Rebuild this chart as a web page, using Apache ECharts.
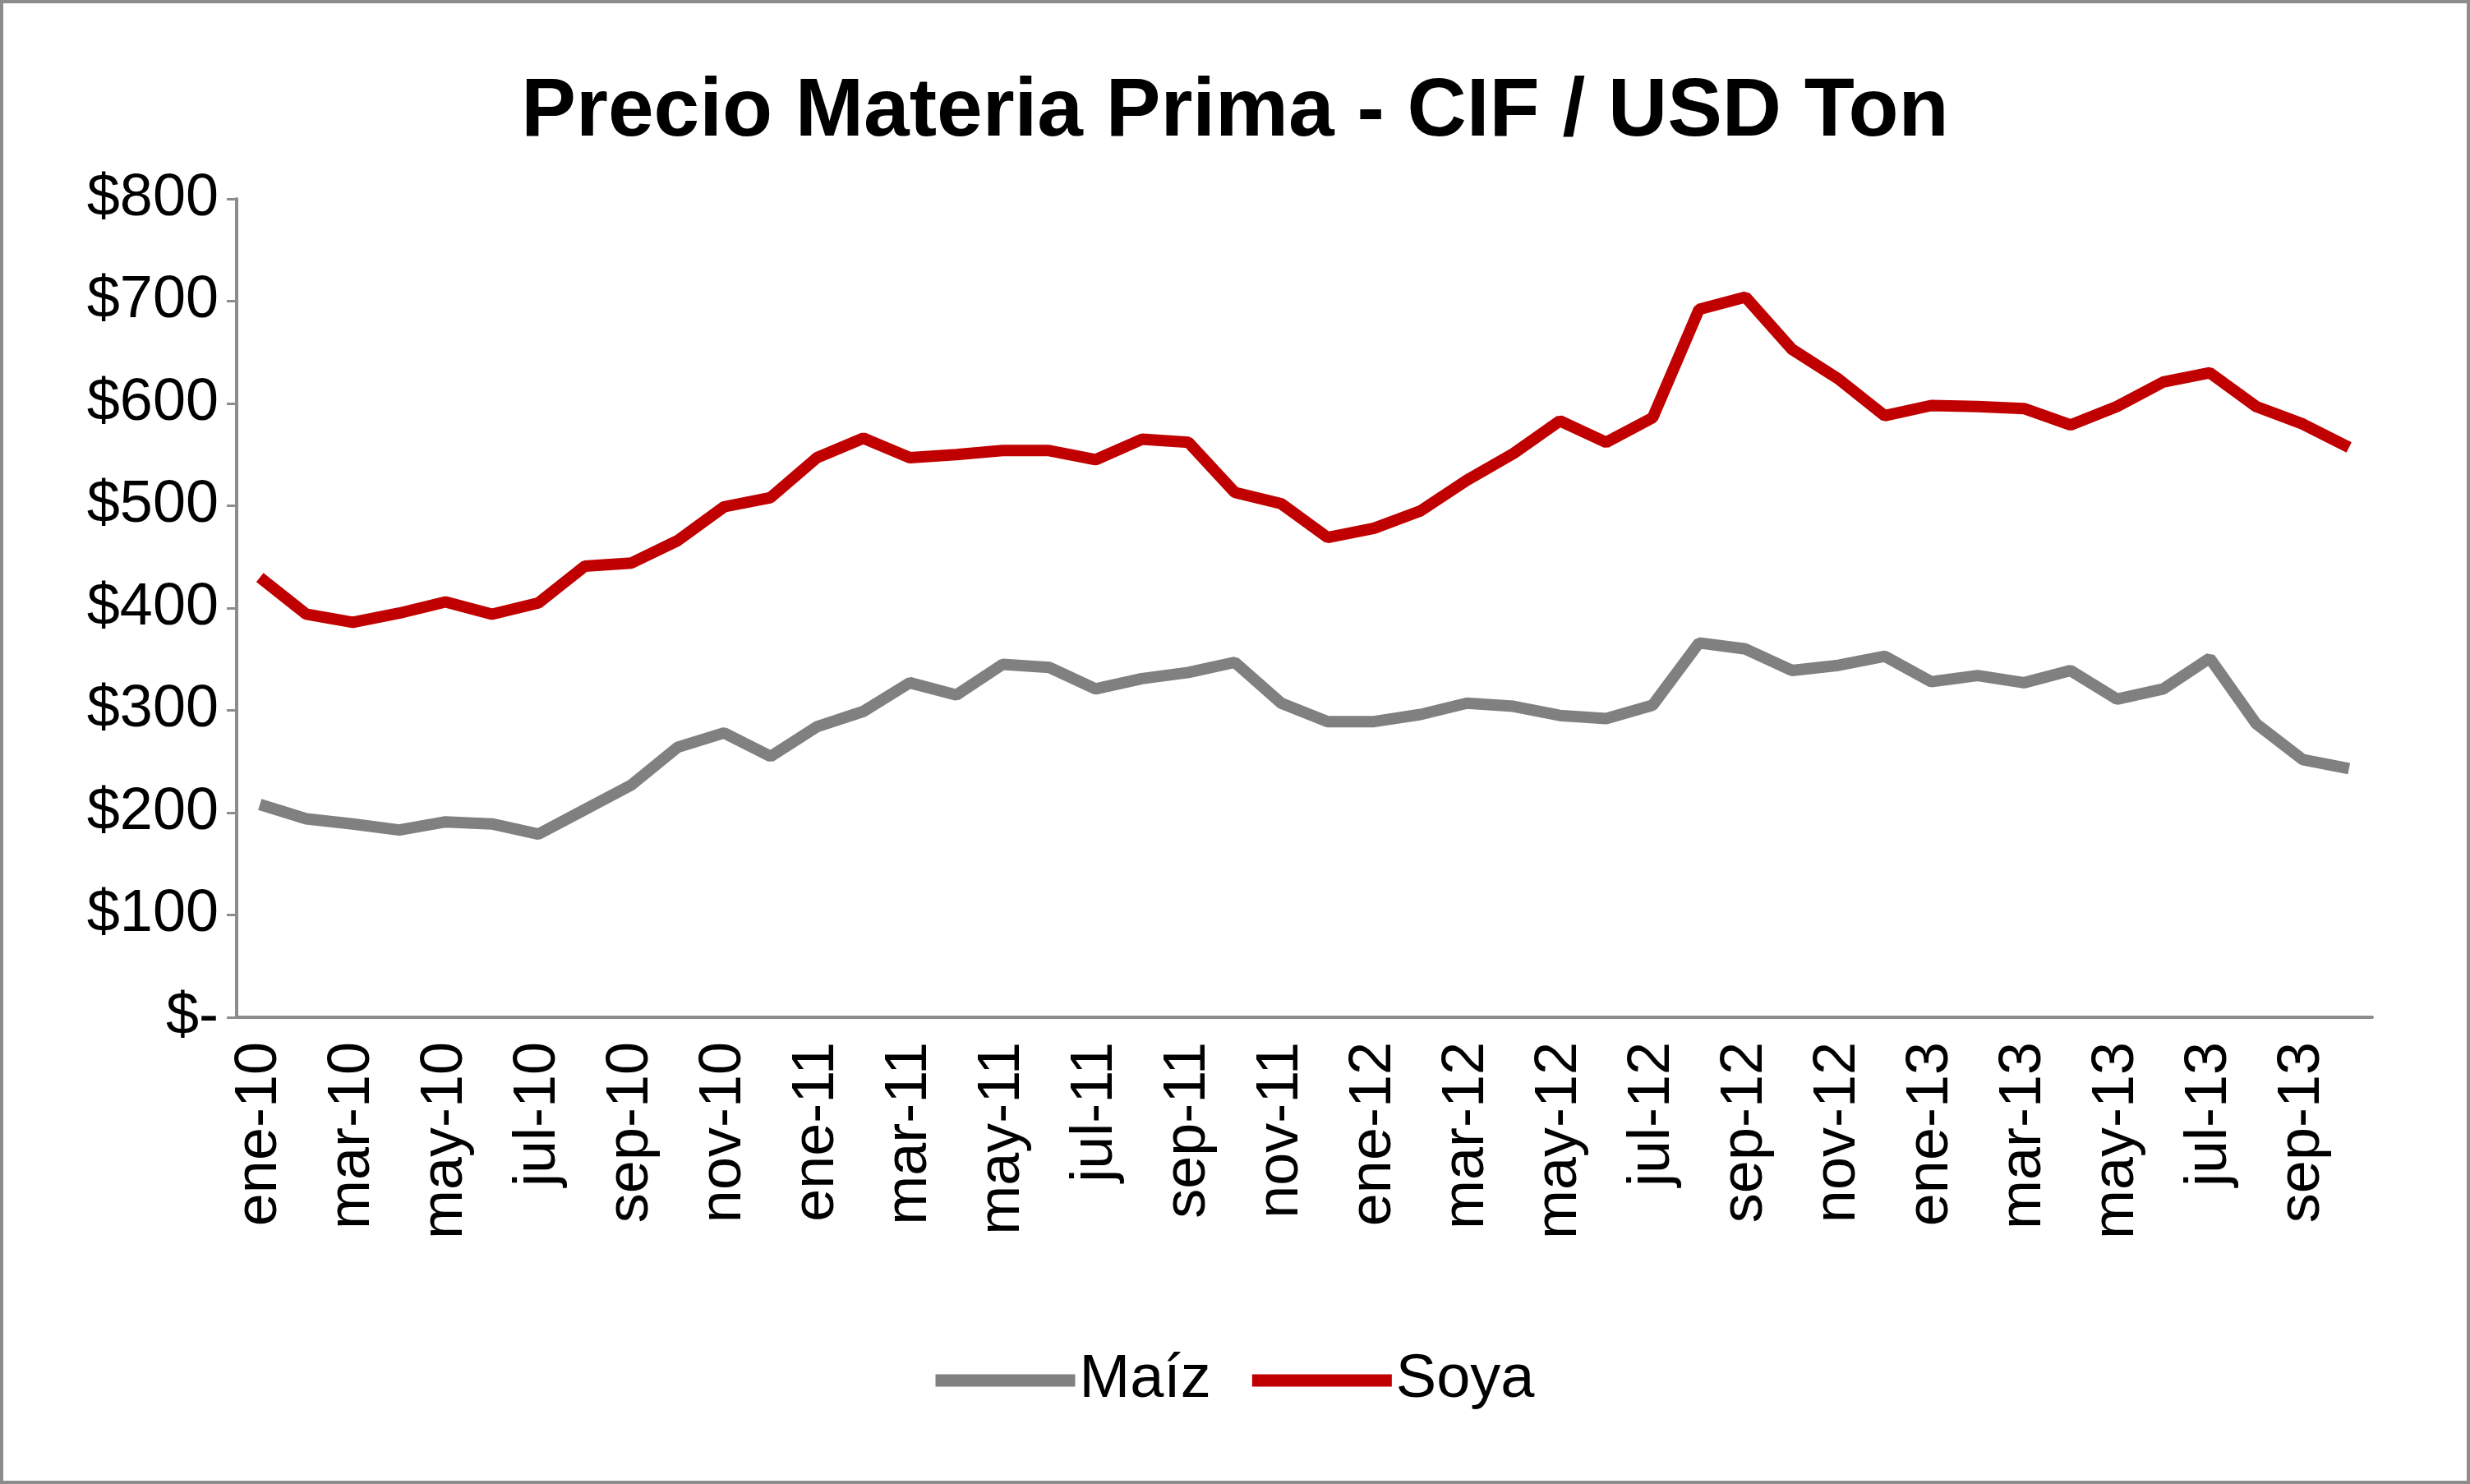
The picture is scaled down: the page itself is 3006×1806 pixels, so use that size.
<!DOCTYPE html>
<html>
<head>
<meta charset="UTF-8">
<script src="https://cdn.jsdelivr.net/npm/echarts@6/dist/echarts.min.js"></script>
<style>
  html, body { margin: 0; padding: 0; background: #fff; }
  #main { width: 3006px; height: 1806px; box-sizing: border-box; border: 4px solid #8c8c8c; }
</style>
</head>
<body>
<div id="main"></div>
<script>
// meses ene-10 .. oct-13
var mesesNombre = ['ene', 'feb', 'mar', 'abr', 'may', 'jun', 'jul', 'ago', 'sep', 'oct', 'nov', 'dic'];
var meses = [];
for (var a = 10; a <= 13; a++) {
  for (var m = 0; m < 12; m++) {
    if (a === 13 && m > 9) break;
    meses.push(mesesNombre[m] + '-' + a);
  }
}

var maiz = [208, 194, 189, 183, 191, 189, 179, 203, 227, 264, 278, 255,
  284, 299, 327, 315, 345, 342, 321, 331, 337, 347, 307, 289,
  289, 296, 307, 304, 295, 292, 305, 366, 360, 339, 344, 353,
  328, 334, 327, 339, 311, 321, 351, 287, 252, 243];

var soya = [430, 394, 386, 395, 406, 394, 405, 441, 444, 466, 499, 508,
  547, 566, 547, 550, 554, 554, 545, 565, 562, 513, 502, 469,
  478, 495, 525, 551, 583, 562, 586, 692, 704, 653, 624, 588,
  598, 597, 595, 579, 597, 621, 630, 597, 580, 557];

var fuente = '"Liberation Sans Narrow", "Liberation Sans", Arial, sans-serif';

var myChart = echarts.init(document.getElementById('main'));
myChart.setOption({
  animation: false,
  title: {
    text: 'Precio Materia Prima - CIF / USD Ton',
    left: 'center',
    top: 78,
    textStyle: { fontFamily: fuente, fontSize: 100, fontWeight: 'bold', color: '#000' }
  },
  legend: {
    bottom: 80,
    left: 'center',
    itemWidth: 170,
    itemHeight: 15,
    itemGap: 50,
    icon: 'rect',
    textStyle: { fontFamily: fuente, fontSize: 74, color: '#000' },
    data: ['Maíz', 'Soya']
  },
  grid: { left: 284, right: 115, top: 238, bottom: 564 },
  xAxis: {
    type: 'category',
    data: meses,
    boundaryGap: true,
    axisLine: { lineStyle: { color: '#8c8c8c', width: 4 } },
    axisTick: { show: false },
    axisLabel: {
      interval: 1,
      rotate: 90,
      margin: 30,
      fontFamily: fuente,
      fontSize: 72,
      color: '#000'
    }
  },
  yAxis: {
    type: 'value',
    min: 0,
    max: 800,
    interval: 100,
    splitLine: { show: false },
    axisLine: { show: true, lineStyle: { color: '#8c8c8c', width: 4 } },
    axisTick: { show: true, length: 12, lineStyle: { color: '#8c8c8c', width: 3 } },
    axisLabel: {
      margin: 22,
      fontFamily: fuente,
      fontSize: 72,
      color: '#000',
      formatter: function (v) { return v === 0 ? '$-' : '$' + v; }
    }
  },
  series: [
    {
      name: 'Maíz',
      type: 'line',
      data: maiz,
      symbol: 'none',
      itemStyle: { color: '#808080' },
      lineStyle: { color: '#808080', width: 14 }
    },
    {
      name: 'Soya',
      type: 'line',
      data: soya,
      symbol: 'none',
      itemStyle: { color: '#c00000' },
      lineStyle: { color: '#c00000', width: 14 }
    }
  ]
});
</script>
</body>
</html>
